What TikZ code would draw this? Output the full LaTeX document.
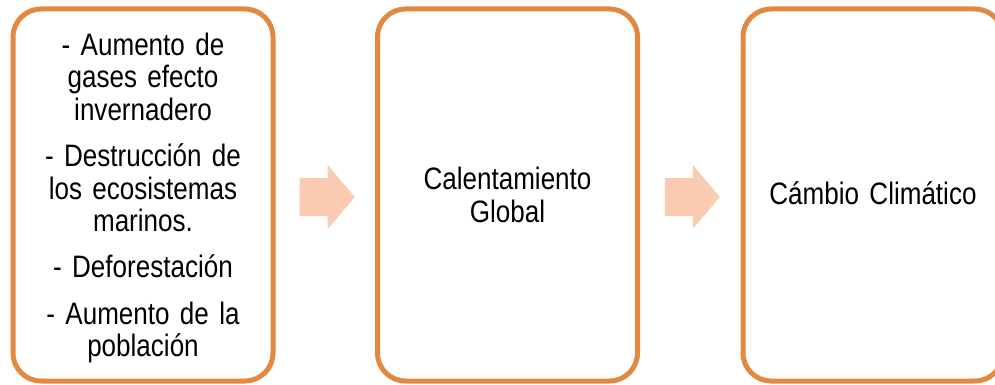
\documentclass[tikz,border=0pt]{standalone}
\usepackage{fontspec}
\setmainfont{Liberation Sans}[FakeStretch=0.84]
\definecolor{boxorange}{HTML}{E3893F}
\definecolor{arrowfill}{HTML}{FACBB1}
\newcommand\cardfont{\fontsize{31}{32.5}\selectfont\spaceskip=7pt plus 1pt minus 1pt\relax}
\tikzset{
  cardbox/.style={draw=boxorange, line width=5pt, rounded corners=28pt, fill=white,
    minimum width=260pt, minimum height=372pt, inner sep=0pt},
  cardtext/.style={inner sep=0pt, align=center, text width=250pt, font=\cardfont},
  blockarrow/.pic={
    \fill[arrowfill] (-27.5,-19) -- (0.5,-19) -- (0.5,-32) -- (27.5,0) -- (0.5,32) -- (0.5,19) -- (-27.5,19) -- cycle;
  }
}
\begin{document}
\begin{tikzpicture}[x=1pt,y=-1pt]
\useasboundingbox (0,0) rectangle (995,385);
\node[cardbox] (b1) at (143,195) {};
\node[cardbox] (b2) at (507.5,195) {};
\node[cardbox] (b3) at (873,195) {};
\node[cardtext] (t1) at ([yshift=-3pt]b1.center) {- Aumento de\\ gases efecto\\ invernadero\\[14pt] - Destrucción de\\ los ecosistemas\\ marinos.\\[13.5pt] - Deforestación\\[14pt] - Aumento de la\\ población};
\node[cardtext] (t2) at ([yshift=0pt]b2.center) {Calentamiento\\ Global};
\node[cardtext] (t3) at ([yshift=2pt]b3.center) {Cámbio Climático};
\path (b1.east) -- coordinate[pos=0.52] (m1) (b2.west);
\path (b2.east) -- coordinate[pos=0.52] (m2) (b3.west);
\pic at ([yshift=-2pt]m1) {blockarrow};
\pic at ([yshift=-2pt]m2) {blockarrow};
\end{tikzpicture}
\end{document}
